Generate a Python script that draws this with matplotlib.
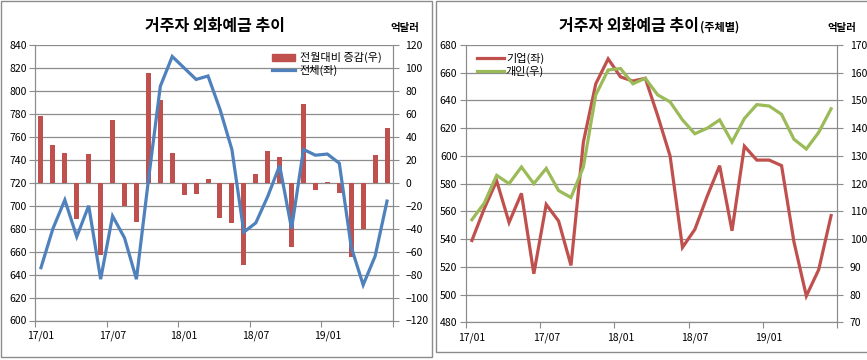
import numpy as np
import matplotlib
matplotlib.use("Agg")
import matplotlib.pyplot as plt
from matplotlib.patches import Rectangle
from matplotlib.lines import Line2D

plt.rcParams['font.family'] = ['Noto Sans CJK KR', 'DejaVu Sans']

# monthly categories 17/01 .. 19/06
months = ["17/01", "17/02", "17/03", "17/04", "17/05", "17/06",
          "17/07", "17/08", "17/09", "17/10", "17/11", "17/12",
          "18/01", "18/02", "18/03", "18/04", "18/05", "18/06",
          "18/07", "18/08", "18/09", "18/10", "18/11", "18/12",
          "19/01", "19/02", "19/03", "19/04", "19/05", "19/06"]
tick_labels = ["17/01", "17/07", "18/01", "18/07", "19/01"]

# left chart: total (left axis) and m/m change (right axis)
total = [646, 680, 705, 673, 700, 636, 691, 672, 636, 722, 804, 830,
         820, 810, 813, 784, 749, 677, 685, 708, 735, 680, 749, 744,
         745, 737, 664, 631, 656, 704]
change = [58, 33, 26, -32, 25, -63, 55, -20, -34, 96, 72, 26,
          -11, -10, 3, -31, -35, -72, 8, 28, 22, -56, 69, -6,
          1, -9, -65, -40, 24, 48]

# right chart: corporate (left axis) and individual (right axis)
corp = [539, 562, 582, 552, 573, 515, 565, 553, 521, 610, 652, 670,
        657, 654, 656, 629, 600, 534, 547, 571, 593, 546, 607, 597,
        597, 593, 538, 499, 518, 557]
person = [107, 113, 123, 120, 126, 120, 125.5, 117.5, 115, 126, 152, 161,
          161.5, 156, 158, 152, 149.5, 143, 138, 140, 143, 135, 143.5, 148.5,
          148, 145, 136, 132.5, 138.5, 147]

RED = "#C0504D"
BLUE = "#4F81BD"
GREEN = "#9BBB59"
GRID = "#8C8C8C"
TICK_FS = 7.5

x = np.arange(len(months))
W, H = 867, 360

fig = plt.figure(figsize=(W / 100, H / 100), dpi=100)

# panel frames
fig.patches.append(Rectangle((1 / W, 1 - 357 / H), 431 / W, 356 / H,
                             transform=fig.transFigure, fill=False,
                             edgecolor=GRID, lw=1))
fig.patches.append(Rectangle((436 / W, 1 - 352 / H), 440 / W, 351 / H,
                             transform=fig.transFigure, fill=False,
                             edgecolor=GRID, lw=1))


def style_axes(ax, twin):
    for a in (ax, twin):
        a.spines['top'].set_visible(False)
        for s in ('left', 'right', 'bottom'):
            a.spines[s].set_color(GRID)
        a.tick_params(axis='y', length=4, width=0.8, color=GRID,
                      labelsize=TICK_FS)
    ax.tick_params(axis='y', pad=2)
    twin.tick_params(axis='y', pad=5)
    ax.set_xlim(-0.5, len(months) - 0.5)
    ax.set_xticks(np.arange(-0.5, len(months), 6))
    ax.set_xticklabels([])
    ax.set_xticks(x[::6], labels=tick_labels, minor=True)
    ax.tick_params(axis='x', which='major', length=4, color=GRID)
    ax.tick_params(axis='x', which='minor', length=0, pad=7,
                   labelsize=TICK_FS)


# ---- left chart ----
ax1 = fig.add_axes([35 / W, 1 - 320.5 / H, 358 / W, 275.5 / H])
ax2 = ax1.twinx()
ax1.set_zorder(ax2.get_zorder() + 1)
ax1.patch.set_visible(False)

ax2.bar(x, change, width=0.42, color=RED, zorder=2)
ax2.set_ylim(-120, 120)
ax2.set_yticks(np.arange(-120, 121, 20))
ax2.set_axisbelow(True)
ax2.grid(axis='y', color=GRID, lw=0.9)

ax1.plot(x, total, color=BLUE, lw=2.3, solid_joinstyle='miter')
ax1.set_ylim(600, 840)
ax1.set_yticks(np.arange(600, 841, 20))
style_axes(ax1, ax2)

h1 = [Rectangle((0, 0), 1, 1, color=RED),
      Line2D([], [], color=BLUE, lw=2.3)]
ax1.legend(h1, ["전월대비 증감(우)", "전체(좌)"], loc='upper left',
           bbox_to_anchor=(272 / W, 1 - 52 / H), bbox_transform=fig.transFigure,
           frameon=False, fontsize=8, handlelength=2.1, handleheight=0.6,
           handletextpad=0.4, borderpad=0, borderaxespad=0, labelspacing=0.15)

fig.text(215 / W, 1 - 31 / H, "거주자 외화예금 추이", ha='center',
         va='baseline', fontsize=11.5, fontweight='bold')
fig.text(405 / W, 1 - 28 / H, "억달러", ha='center', va='center',
         fontsize=7.5, fontweight='bold')

# ---- right chart ----
ax3 = fig.add_axes([465.7 / W, 1 - 322.3 / H, 371.6 / W, 277.3 / H])
ax4 = ax3.twinx()

ax3.plot(x, corp, color=RED, lw=2.3, solid_joinstyle='miter')
ax3.set_ylim(480, 680)
ax3.set_yticks(np.arange(480, 681, 20))
ax3.set_axisbelow(True)
ax3.grid(axis='y', color=GRID, lw=0.9)

ax4.plot(x, person, color=GREEN, lw=2.3, solid_joinstyle='miter')
ax4.set_ylim(70, 170)
ax4.set_yticks(np.arange(70, 171, 10))
style_axes(ax3, ax4)

h2 = [Line2D([], [], color=RED, lw=2.3),
      Line2D([], [], color=GREEN, lw=2.3)]
ax4.legend(h2, ["기업(좌)", "개인(우)"], loc='upper left',
           bbox_to_anchor=(477 / W, 1 - 53 / H), bbox_transform=fig.transFigure,
           frameon=False, fontsize=8, handlelength=2.4,
           handletextpad=0.2, borderpad=0, borderaxespad=0, labelspacing=0.15)

fig.text(699 / W, 1 - 31 / H, "거주자 외화예금 추이", ha='right',
         va='baseline', fontsize=11.5, fontweight='bold')
fig.text(700 / W, 1 - 31 / H, "(주체별)", ha='left',
         va='baseline', fontsize=8, fontweight='bold')
fig.text(842 / W, 1 - 28 / H, "억달러", ha='center', va='center',
         fontsize=7.5, fontweight='bold')

fig.savefig("out.png", dpi=100)
